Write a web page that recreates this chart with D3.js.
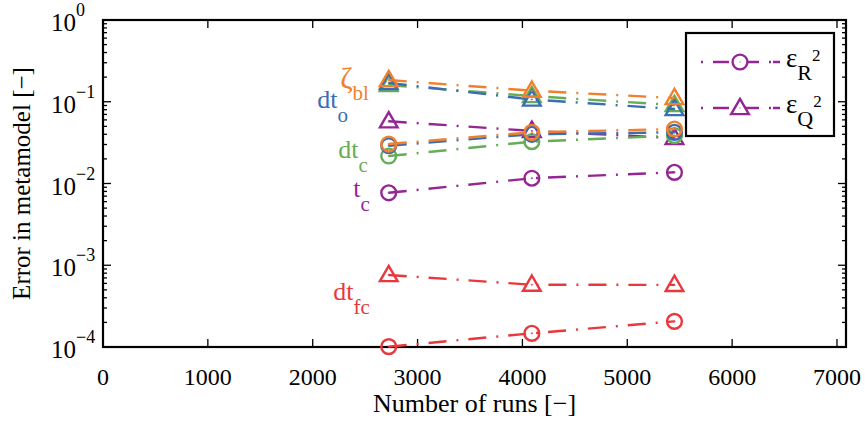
<!DOCTYPE html>
<html lang="en">
	<head>
		<meta charset="utf-8">
		<title>Metamodel error</title>
		<script type="text/javascript" src="https://cdn.jsdelivr.net/npm/d3@7"></script>
		<style>
			body { margin: 0; background: #fff; }
			text { font-family: "Liberation Serif", "Times New Roman", serif; }
		</style>
	</head>
	<body>
		<script type="text/javascript">

			// number of runs
			var runs = [2725, 4090, 5450]

			// error for each output (R^2 -> circles, Q^2 -> triangles)
			var names = ["dt_fc", "t_c", "dt_c", "dt_o", "zeta_bl"]
			var errR2 = {
				dt_fc:   [1.01e-4, 1.47e-4, 2.06e-4],
				t_c:     [0.0077, 0.0116, 0.0137],
				dt_c:    [0.0217, 0.0325, 0.0385],
				dt_o:    [0.0290, 0.0400, 0.0423],
				zeta_bl: [0.0304, 0.0423, 0.0464]
			}
			var errQ2 = {
				dt_fc:   [7.6e-4, 5.78e-4, 5.75e-4],
				t_c:     [0.0577, 0.0440, 0.0360],
				dt_c:    [0.160, 0.1175, 0.0912],
				dt_o:    [0.170, 0.1066, 0.0815],
				zeta_bl: [0.1845, 0.1365, 0.111]
			}
			var colors = {
				dt_fc: "#e8383d",
				t_c: "#952595",
				dt_c: "#66ad55",
				dt_o: "#3b6db4",
				zeta_bl: "#f0802c"
			}
			// label text, subscript, anchor in data coords
			var labels = [
				{ k: "zeta_bl", main: "ζ",  sub: "bl", x: 2262, y: 0.147 },
				{ k: "dt_o",    main: "dt", sub: "o",  x: 2044, y: 0.0839 },
				{ k: "dt_c",    main: "dt", sub: "c",  x: 2244, y: 0.0205 },
				{ k: "t_c",     main: "t",  sub: "c",  x: 2387, y: 0.00684 },
				{ k: "dt_fc",   main: "dt", sub: "fc", x: 2196, y: 3.76e-4 }
			]
			var xTicks = [0, 1000, 2000, 3000, 4000, 5000, 6000, 7000]
			var yTicks = [1e-4, 1e-3, 1e-2, 1e-1, 1]
			var legendItems = [
				{ sym: "circle", sub: "R" },
				{ sym: "triangle", sub: "Q" }
			]

			var width = 865, height = 423
			var m = { left: 103, right: 19, top: 20, bottom: 76 }
			var svg = d3.select("body").append("svg")
				.attr("width", width).attr("height", height)

			var x = d3.scaleLinear().domain([0, 7086]).range([m.left, width - m.right])
			var y = d3.scaleLog().domain([1e-4, 1]).range([height - m.bottom, m.top])

			var minorY = []
			for (var e = -4; e < 0; e++)
				for (var k = 2; k < 10; k++) minorY.push(k * Math.pow(10, e))

			var ax = svg.append("g").attr("stroke", "#000").attr("stroke-width", 1.3)
			var x0 = x.range()[0], x1 = x.range()[1], y0 = y.range()[0], y1 = y.range()[1]
			xTicks.forEach(function(t) {
				ax.append("line").attr("x1", x(t)).attr("x2", x(t)).attr("y1", y0).attr("y2", y0 - 8)
				ax.append("line").attr("x1", x(t)).attr("x2", x(t)).attr("y1", y1).attr("y2", y1 + 8)
			})
			yTicks.forEach(function(t) {
				ax.append("line").attr("x1", x0).attr("x2", x0 + 8).attr("y1", y(t)).attr("y2", y(t))
				ax.append("line").attr("x1", x1).attr("x2", x1 - 8).attr("y1", y(t)).attr("y2", y(t))
			})
			minorY.forEach(function(t) {
				ax.append("line").attr("x1", x0).attr("x2", x0 + 4).attr("y1", y(t)).attr("y2", y(t))
				ax.append("line").attr("x1", x1).attr("x2", x1 - 4).attr("y1", y(t)).attr("y2", y(t))
			})
			svg.append("rect")
				.attr("x", x0).attr("y", y1).attr("width", x1 - x0).attr("height", y0 - y1)
				.attr("fill", "none").attr("stroke", "#000").attr("stroke-width", 2.2)

			// tick labels
			svg.append("g").selectAll("text").data(xTicks).enter().append("text")
				.attr("x", d => x(d)).attr("y", y0 + 38)
				.attr("text-anchor", "middle").attr("font-size", 24)
				.text(d => d)
			var yl = svg.append("g").selectAll("text").data(yTicks).enter().append("text")
				.attr("x", 51).attr("y", d => y(d) + 11).attr("font-size", 25)
			yl.append("tspan").text("10")
			yl.append("tspan").attr("font-size", 18).attr("dy", -15)
				.text(d => { var p = Math.round(Math.log10(d)); return p < 0 ? "\u2212" + (-p) : p })

			svg.append("text").attr("x", (x0 + x1) / 2).attr("y", 412)
				.attr("text-anchor", "middle").attr("font-size", 26)
				.text("Number of runs [\u2212]")
			svg.append("text")
				.attr("transform", "translate(30," + ((y0 + y1) / 2) + ") rotate(-90)")
				.attr("text-anchor", "middle").attr("font-size", 25)
				.text("Error in metamodel [\u2212]")

			var dash = "18,10,2,10"
			var line = d3.line().x(d => x(d[0])).y(d => y(d[1]))
			var tri = d3.symbol().type(d3.symbolTriangle).size(135)

			names.forEach(function(n) {
				var g = svg.append("g").attr("stroke", colors[n]).attr("fill", "none").attr("stroke-width", 2.4)
				var pr = runs.map((r, i) => [r, errR2[n][i]])
				var pq = runs.map((r, i) => [r, errQ2[n][i]])
				g.append("path").attr("d", line(pr)).attr("stroke-dasharray", dash)
				g.append("path").attr("d", line(pq)).attr("stroke-dasharray", dash)
				g.selectAll("circle").data(pr).enter().append("circle")
					.attr("cx", d => x(d[0])).attr("cy", d => y(d[1])).attr("r", 7.4)
				g.selectAll(".tri").data(pq).enter().append("path")
					.attr("d", tri)
					.attr("transform", d => "translate(" + x(d[0]) + "," + (y(d[1]) + 1) + ")")
				// centre dots
				g.selectAll(".dot").data(pr.concat(pq)).enter().append("circle")
					.attr("cx", d => x(d[0])).attr("cy", d => y(d[1])).attr("r", 0.6)
					.attr("stroke-width", 1)
			})

			// curve labels
			labels.forEach(function(l) {
				var t = svg.append("text").attr("x", x(l.x)).attr("y", y(l.y))
					.attr("fill", colors[l.k]).attr("font-size", l.main == "ζ" ? 30 : 26)
				t.append("tspan").text(l.main)
				t.append("tspan").attr("font-size", 21).attr("dy", l.main == "ζ" ? 12 : 14).text(l.sub)
			})

			// legend
			var lg = svg.append("g")
			lg.append("rect").attr("x", 686).attr("y", 33).attr("width", 148).attr("height", 103)
				.attr("fill", "#fff").attr("stroke", "#000").attr("stroke-width", 2.2)
			legendItems.forEach(function(it, i) {
				var cy = 62 + i * 46
				var c = colors.t_c
				lg.append("line").attr("x1", 701).attr("x2", 780).attr("y1", cy).attr("y2", cy)
					.attr("stroke", c).attr("stroke-width", 2.4)
					.attr("stroke-dasharray", "2,10,16,14,16,10,2")
				if (it.sym == "circle")
					lg.append("circle").attr("cx", 740).attr("cy", cy).attr("r", 7.4)
						.attr("fill", "#fff").attr("stroke", c).attr("stroke-width", 2.4)
				else
					lg.append("path").attr("d", tri).attr("transform", "translate(740," + (cy + 1) + ")")
						.attr("fill", "#fff").attr("stroke", c).attr("stroke-width", 2.4)
				lg.append("circle").attr("cx", 740).attr("cy", cy).attr("r", 0.6).attr("fill", c)
				var t = lg.append("text").attr("x", 786).attr("y", cy + 5).attr("font-size", 27)
				t.append("tspan").text("\u03b5")
				t.append("tspan").attr("font-size", 22).attr("dy", 13).text(it.sub)
				t.append("tspan").attr("font-size", 17).attr("dy", -19).text("2")
			})

		</script>
	</body>
</html>
